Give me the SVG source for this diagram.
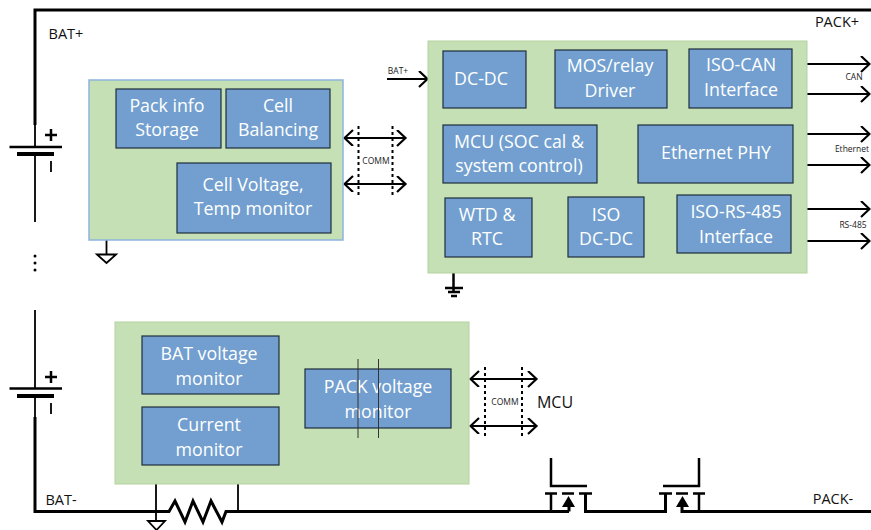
<svg xmlns="http://www.w3.org/2000/svg" width="871" height="530" viewBox="0 0 871 530">
<style>
text{font-family:"Open Sans","Liberation Sans",sans-serif;text-anchor:middle}
.g{fill:#c5e0b4;stroke:#b3d29f;stroke-width:1}
.gb{fill:#c5e0b4;stroke:#8fb4de;stroke-width:1.5}
.b{fill:#729fcf;stroke:#1f2d3d;stroke-width:1.2}
.t{fill:#fff;font-size:17.800px}
.s{font-size:8.500px;fill:#222}
.m{font-size:14.500px;fill:#111}
.w{fill:none;stroke:#000;stroke-width:1.800}
.w2{fill:none;stroke:#000;stroke-width:2.500}
.w3{fill:none;stroke:#000;stroke-width:3}
.w4{fill:none;stroke:#000;stroke-width:4}
.d{fill:none;stroke:#000;stroke-width:2;stroke-dasharray:3 3}
.a{fill:none;stroke:#000;stroke-width:2.200}
</style>
<defs>
<marker id="ah" markerWidth="12" markerHeight="18" refX="9.500" refY="8" orient="auto-start-reverse" markerUnits="userSpaceOnUse"><path d="M1.500 0L10 8L1.500 16" fill="none" stroke="#000" stroke-width="2.200"/></marker>
</defs>
<g id="connectors">
<path class="w3" d="M35 125V10H871"/>
<path class="w" d="M35 125V146M35 154V222"/>
<path class="w2" d="M9.500 147H62"/>
<path class="w4" d="M17 154H54"/>
<path class="w2" d="M51 129V141M45 135H57"/>
<path class="w" d="M51 161V172"/>
<path class="w" d="M35 310V388M35 396V417"/>
<path class="w2" d="M9.500 388.500H62"/>
<path class="w4" d="M17 396H54"/>
<path class="w2" d="M51 371V383M45 377H57"/>
<path class="w" d="M51 403V414"/>
<path class="w3" d="M35 417V511.500H169L175 501 185 522 193 501 203 522 211 501 222 522 226 511.500H569"/>
<circle cx="35" cy="256" r="1.500"/><circle cx="35" cy="263" r="1.500"/><circle cx="35" cy="270" r="1.500"/>
<path class="w" d="M106.500 240V254M97 254.500H116L106.500 263Z"/>
<path class="w" d="M156 484V521M148 521H165L156.500 530Z"/>
<path class="w" d="M238 484V511"/>
<path class="w2" d="M453.500 273V291M445 288H463"/>
<path class="w2" d="M448 292H460M451 296H457"/>
<path class="a" d="M387 79H427" marker-end="url(#ah)"/>
<path class="a" d="M345 138H405" marker-start="url(#ah)" marker-end="url(#ah)"/>
<path class="a" d="M345 184H405" marker-start="url(#ah)" marker-end="url(#ah)"/>
<path class="d" d="M358.500 126V197M392.500 126V197"/>
<path class="a" d="M807 64H869" marker-end="url(#ah)"/>
<path class="a" d="M807 94H869" marker-end="url(#ah)"/>
<path class="a" d="M807 134H869" marker-end="url(#ah)"/>
<path class="a" d="M807 165H869" marker-end="url(#ah)"/>
<path class="a" d="M807 209H869" marker-end="url(#ah)"/>
<path class="a" d="M807 241H869" marker-end="url(#ah)"/>
<path class="a" d="M471 379H536" marker-start="url(#ah)" marker-end="url(#ah)"/>
<path class="a" d="M471 426H536" marker-start="url(#ah)" marker-end="url(#ah)"/>
<path class="d" d="M485 367V439M522 367V439"/>
<path class="w2" d="M551 458V486H587M663 486H699V458"/>
<path class="w2" d="M545 493.500H557M562 493.500H574M579 493.500H592M659 493.500H672M676 493.500H688M693 493.500H705"/>
<path class="w2" d="M551 494V511M699 494V511"/>
<path class="w3" d="M585.500 494V511.500H665.500V494"/>
<path class="w3" d="M682 500V511.500H871"/>
<path class="w3" d="M569 500V511.500"/>
<path d="M562 507L568.500 496 575 507Z M676 507L682.500 496 689 507Z"/>
</g>
<g id="battery-module"><rect class="gb" x="89" y="80" width="254" height="160"/></g>
<g id="afe-module"><rect class="g" x="428" y="41" width="379" height="232"/></g>
<g id="pack-module"><rect class="g" x="115" y="322" width="354" height="162"/></g>
<g id="pack-info"><rect class="b" x="116" y="89" width="105" height="59"/><text class="t" x="167" y="112">Pack info</text><text class="t" x="167" y="136">Storage</text></g>
<g id="cell-balancing"><rect class="b" x="226" y="89" width="104" height="59"/><text class="t" x="278" y="112">Cell</text><text class="t" x="278" y="136">Balancing</text></g>
<g id="cell-voltage"><rect class="b" x="177" y="163" width="154" height="70"/><text class="t" x="253" y="191">Cell Voltage,</text><text class="t" x="253" y="215">Temp monitor</text></g>
<g id="dc-dc"><rect class="b" x="443" y="51" width="83" height="57"/><text class="t" x="481" y="85">DC-DC</text></g>
<g id="mos-driver"><rect class="b" x="555" y="50" width="112" height="58"/><text class="t" x="610" y="72">MOS/relay</text><text class="t" x="610" y="97">Driver</text></g>
<g id="iso-can"><rect class="b" x="689" y="49" width="103" height="59"/><text class="t" x="741" y="71">ISO-CAN</text><text class="t" x="741" y="96">Interface</text></g>
<g id="mcu"><rect class="b" x="443" y="125" width="154" height="58"/><text class="t" x="519" y="148">MCU (SOC cal &amp;</text><text class="t" x="519" y="172">system control)</text></g>
<g id="ethernet"><rect class="b" x="638" y="125" width="155" height="58"/><text class="t" x="716" y="159">Ethernet PHY</text></g>
<g id="wtd"><rect class="b" x="445" y="198" width="87" height="59"/><text class="t" x="487" y="221">WTD &amp;</text><text class="t" x="487" y="245">RTC</text></g>
<g id="iso-dc-dc"><rect class="b" x="568" y="197" width="76" height="60"/><text class="t" x="606" y="221">ISO</text><text class="t" x="606" y="245">DC-DC</text></g>
<g id="iso-rs485"><rect class="b" x="677" y="195" width="114" height="58"/><text class="t" x="736" y="218">ISO-RS-485</text><text class="t" x="736" y="243">Interface</text></g>
<g id="bat-voltage"><rect class="b" x="142" y="336" width="137" height="58"/><text class="t" x="209" y="360">BAT voltage</text><text class="t" x="209" y="385">monitor</text></g>
<g id="current"><rect class="b" x="142" y="407" width="137" height="58"/><text class="t" x="209" y="431">Current</text><text class="t" x="209" y="456">monitor</text></g>
<g id="pack-voltage"><rect class="b" x="305" y="369" width="146" height="59"/><text class="t" x="378" y="393">PACK voltage</text><text class="t" x="378" y="418">monitor</text></g>
<path d="M358 359V438M378.500 359V438" stroke="#333" stroke-width="1" fill="none"/>
<g id="labels">
<text class="m" x="66" y="39">BAT+</text>
<text class="m" x="837" y="27">PACK+</text>
<text class="m" x="61" y="505">BAT-</text>
<text class="m" x="833" y="504">PACK-</text>
<text class="m" style="font-size:16px" x="555" y="408">MCU</text>
<text class="s" x="398" y="74">BAT+</text>
<text class="s" x="376" y="164">COMM</text>
<text class="s" x="505" y="405">COMM</text>
<text class="s" x="854" y="80">CAN</text>
<text class="s" x="852" y="152">Ethernet</text>
<text class="s" x="853" y="228">RS-485</text>
</g>
</svg>
